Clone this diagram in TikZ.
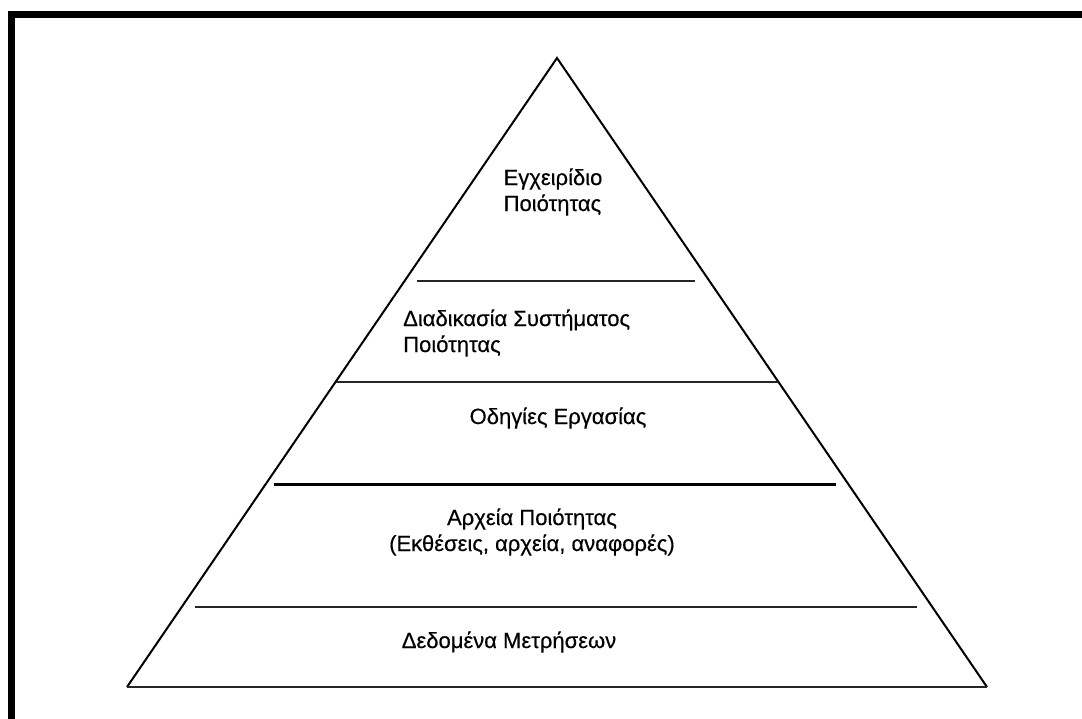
\documentclass[tikz,border=0pt]{standalone}
\usepackage{fontspec}
\setmainfont{Liberation Sans}
\newfontfamily\tierfont{Liberation Sans}[FakeBold=0.35]
\begin{document}
\begin{tikzpicture}[x=1pt,y=-1pt,
  side/.style={line width=2pt,black},
  tier/.style={line width=1.4pt,black!85},
  heavytier/.style={line width=3pt,black},
  label/.style={font=\tierfont\fontsize{22}{26}\selectfont,inner sep=0pt,text=black}]
% page area
\fill[white] (0,0) rectangle (1082,718);
\useasboundingbox (0,0) rectangle (1082,718);
% frame (top and left edges)
\draw[line width=6.5pt,line cap=rect] (11.5,718) -- (11.5,14.5) -- (1082,14.5);
% pyramid corners
\coordinate (apex) at (557,58);
\coordinate (bl) at (127,687);
\coordinate (br) at (987,687);
\draw[side] (bl) -- (apex) -- (br);
\draw[tier] (bl) -- (br);
% tier separators
\coordinate (t1a) at (417,281); \coordinate (t1b) at (695,281);
\coordinate (t2a) at (336,382); \coordinate (t2b) at (778,382);
\coordinate (t3a) at (274,484); \coordinate (t3b) at (836,484);
\coordinate (t4a) at (195,607); \coordinate (t4b) at (917,607);
\draw[tier] (t1a) -- (t1b);
\draw[tier] (t2a) -- (t2b);
\draw[heavytier] (t3a) -- (t3b);
\draw[tier] (t4a) -- (t4b);
% tier labels
\node[label,align=left] (manual) at (553,192) {Εγχειρίδιο\\Ποιότητας};
\node[label,align=left,anchor=west] (proc) at (403,333) {Διαδικασία Συστήματος\\Ποιότητας};
\node[label] (instr) at (558,418) {Οδηγίες Εργασίας};
\node[label,align=center] (records) at (532,532) {Αρχεία Ποιότητας\\(Εκθέσεις, αρχεία, αναφορές)};
\node[label] (data) at (509,642) {Δεδομένα Μετρήσεων};
\end{tikzpicture}
\end{document}
